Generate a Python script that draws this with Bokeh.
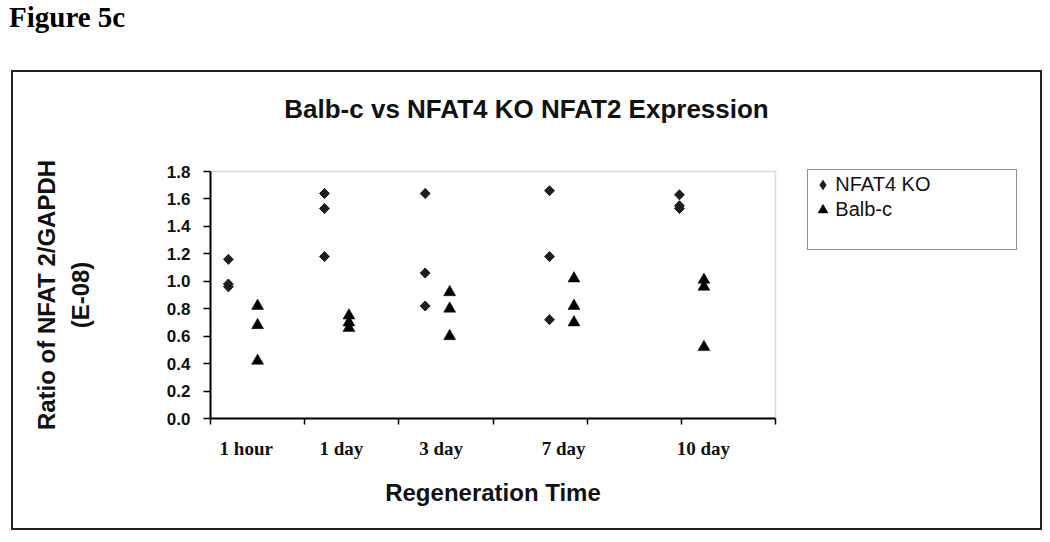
import numpy as np
from math import pi
from bokeh.plotting import figure
from bokeh.layouts import column
from bokeh.models import (FixedTicker, Legend, LegendItem, Range1d, Div, Label,
                          BoxAnnotation, LinearAxis)
from bokeh.embed import file_html
from bokeh.resources import INLINE

# ---------------- data ----------------
figure_label = "Figure 5c"
chart_title = "Balb-c vs NFAT4 KO NFAT2 Expression"
y_title_lines = ["Ratio of NFAT 2/GAPDH", "(E-08)"]
x_title = "Regeneration Time"

categories = ["1 hour", "1 day", "3 day", "7 day", "10 day"]
category_label_x = [0.38, 1.39, 2.45, 3.75, 5.235]
x_tick_positions = [0, 1, 2, 3, 4, 5, 6]
y_tick_values = [0.0, 0.2, 0.4, 0.6, 0.8, 1.0, 1.2, 1.4, 1.6, 1.8]
y_tick_labels = ["0.0", "0.2", "0.4", "0.6", "0.8", "1.0", "1.2", "1.4", "1.6", "1.8"]

series_names = ["NFAT4 KO", "Balb-c"]
nfat4_x = [0.19, 1.21, 2.28, 3.60, 4.98]
balbc_x = [0.50, 1.47, 2.54, 3.86, 5.24]
nfat4_ko = [[1.16, 0.98, 0.96],
            [1.64, 1.53, 1.18],
            [1.64, 1.06, 0.82],
            [1.66, 1.18, 0.72],
            [1.63, 1.55, 1.53]]
balb_c = [[0.82, 0.68, 0.42],
          [0.75, 0.70, 0.66],
          [0.92, 0.80, 0.60],
          [1.02, 0.82, 0.70],
          [1.01, 0.96, 0.52]]

nx = np.repeat(nfat4_x, [len(g) for g in nfat4_ko])
ny = np.concatenate([np.array(g) for g in nfat4_ko])
bx = np.repeat(balbc_x, [len(g) for g in balb_c])
by = np.concatenate([np.array(g) for g in balb_c])

x_lo, x_hi = x_tick_positions[0], x_tick_positions[-1]
y_lo, y_hi = y_tick_values[0], y_tick_values[-1]
x_mid = (x_lo + x_hi) / 2
y_mid = (y_lo + y_hi) / 2

# ---------------- layout geometry (pixels) ----------------
W, H = 1027, 456
B_LEFT, B_RIGHT, B_TOP, B_BOTTOM = 197, 15, 20, 110
AXIS_W, AXIS_H = 565, 247          # plotting area occupied by the axes
frame_w = W - B_LEFT - B_RIGHT
frame_h = H - B_TOP - B_BOTTOM
x_view_hi = x_lo + (x_hi - x_lo) * frame_w / AXIS_W
y_view_hi = y_lo + (y_hi - y_lo) * frame_h / AXIS_H

p = figure(width=W, height=H, output_backend="svg", toolbar_location=None, title=None,
           x_range=Range1d(x_lo, x_view_hi), y_range=Range1d(y_lo, y_view_hi),
           min_border_left=B_LEFT, min_border_right=B_RIGHT,
           min_border_top=B_TOP, min_border_bottom=B_BOTTOM)
p.margin = (0, 0, 0, 13)
p.styles = {"box-shadow": "0 0 0 2px #222222"}
p.background_fill_color = "white"
p.border_fill_color = "white"
p.outline_line_color = None
p.xgrid.visible = False
p.ygrid.visible = False

# gray plot-area border (top / right visible)
p.add_layout(BoxAnnotation(left=x_lo, right=x_hi, bottom=y_lo, top=y_hi,
                           fill_alpha=0, line_color="#8c8c8c", line_width=1.5,
                           level="underlay"))

# legend key glyph (diamond) hidden beneath the plotted markers
r1_key = p.scatter(nx, ny, marker="diamond", size=10,
                   fill_color="#1e1e1e", line_color="#1e1e1e", line_width=0.5)
r1 = p.scatter(nx, ny, marker="square", angle=pi / 4, size=7,
               fill_color="#1e1e1e", line_color="#1e1e1e", line_width=1)
r2 = p.scatter(bx, by, marker="triangle", size=12,
               fill_color="#000000", line_color="#000000", line_width=0.5)
r_pad = p.scatter([], [], marker="circle", size=1, fill_alpha=0, line_alpha=0)

# y axis
ya = p.yaxis[0]
ya.bounds = (y_lo, y_hi)
ya.ticker = FixedTicker(ticks=y_tick_values)
ya.major_label_overrides = dict(zip(y_tick_values, y_tick_labels))
ya.axis_line_color = "black"
ya.axis_line_width = 2
ya.major_tick_line_color = "black"
ya.major_tick_line_width = 1.5
ya.major_tick_out = 7
ya.major_tick_in = 0
ya.minor_tick_line_color = None
ya.major_label_standoff = 13
ya.major_label_text_font = "Liberation Sans"
ya.major_label_text_font_style = "bold"
ya.major_label_text_font_size = "17px"
ya.major_label_text_color = "#111111"

# y axis title: two lines, each centred on the axis span
for text, standoff in [(y_title_lines[1], 70), (y_title_lines[0], 4)]:
    ax = LinearAxis(ticker=FixedTicker(ticks=[y_mid]),
                    major_label_overrides={y_mid: text},
                    axis_line_color=None, major_tick_line_color=None,
                    minor_tick_line_color=None, major_tick_out=0, major_tick_in=0,
                    major_label_standoff=standoff, major_label_orientation="vertical",
                    major_label_text_font="Liberation Sans",
                    major_label_text_font_style="bold",
                    major_label_text_font_size="24px",
                    major_label_text_color="#111111")
    p.add_layout(ax, "left")

# x axis
xa = p.xaxis[0]
xa.bounds = (x_lo, x_hi)
xa.ticker = FixedTicker(ticks=category_label_x, minor_ticks=x_tick_positions)
xa.major_label_overrides = dict(zip(category_label_x, categories))
xa.axis_line_color = "black"
xa.axis_line_width = 2
xa.major_tick_line_color = None
xa.major_tick_out = 0
xa.major_tick_in = 0
xa.minor_tick_line_color = "black"
xa.minor_tick_line_width = 1.5
xa.minor_tick_out = 6
xa.minor_tick_in = 0
xa.major_label_standoff = 13
xa.major_label_text_font = "Liberation Serif"
xa.major_label_text_font_style = "bold"
xa.major_label_text_font_size = "19px"
xa.major_label_text_color = "#111111"

# x axis title centred on the axis span
xt = LinearAxis(ticker=FixedTicker(ticks=[x_mid]),
                major_label_overrides={x_mid: x_title},
                axis_line_color=None, major_tick_line_color=None,
                minor_tick_line_color=None, major_tick_out=0, major_tick_in=0,
                major_label_standoff=17,
                major_label_text_font="Liberation Sans",
                major_label_text_font_style="bold",
                major_label_text_font_size="24px",
                major_label_text_color="#111111")
p.add_layout(xt, "below")

# chart title (inside the frame area, canvas pixel position)
p.add_layout(Label(x=513, y=36, x_units="canvas", y_units="canvas", text=chart_title,
                   text_font="Liberation Sans", text_font_style="bold",
                   text_font_size="26px", text_color="#111111",
                   text_align="center", text_baseline="middle"))

# legend
legend = Legend(items=[LegendItem(label=series_names[0], renderers=[r1_key]),
                       LegendItem(label=series_names[1], renderers=[r2]),
                       LegendItem(label=" ", renderers=[r_pad])],
                location=(597.3, 168.2), orientation="vertical",
                border_line_color="#222222", border_line_width=1.5,
                background_fill_color="white", background_fill_alpha=1,
                padding=2, margin=0, spacing=0,
                glyph_width=25, glyph_height=25, label_standoff=0, label_width=179,
                label_text_font="Liberation Sans", label_text_font_size="20px",
                label_text_color="#111111")
p.add_layout(legend, "center")

header = Div(text=("<div style=\"margin:0;padding:0;margin-top:3px;padding-left:9px;"
                   "font-family:'Liberation Serif';font-weight:bold;font-size:29px;"
                   "line-height:29px;color:#000;white-space:nowrap\">" + figure_label + "</div>"),
             width=1042, height=72, margin=0)

layout = column(header, p, spacing=0)
open("out.html", "w").write(file_html(layout, INLINE))
